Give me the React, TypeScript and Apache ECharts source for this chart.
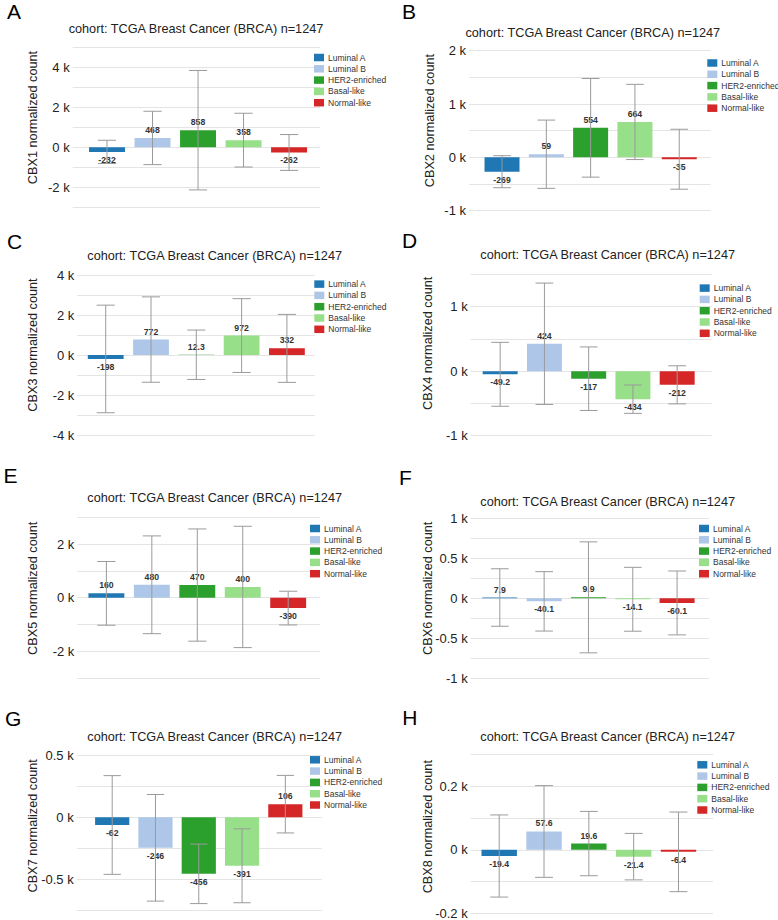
import React, { useEffect, useRef } from "react";
import * as echarts from "echarts";

// ---------- data ----------
const SUBTYPES = ["Luminal A", "Luminal B", "HER2-enriched", "Basal-like", "Normal-like"];
const GENES = ["CBX1", "CBX2", "CBX3", "CBX4", "CBX5", "CBX6", "CBX7", "CBX8"];
const PANEL_LETTERS = ["A", "B", "C", "D", "E", "F", "G", "H"];
const TITLE = "cohort: TCGA Breast Cancer (BRCA) n=1247";

const cbx1Mean = [-232, 468, 858, 358, -262];
const cbx1Sd = [583, 1340, 3000, 1350, 900];
const cbx2Mean = [-269, 59, 554, 664, -35];
const cbx2Sd = [300, 640, 925, 705, 562];
const cbx3Mean = [-198, 772, 12.3, 972, 332];
const cbx3Sd = [2690, 2135, 1235, 1845, 1700];
const cbx4Mean = [-49.2, 424, -117, -434, -212];
const cbx4Sd = [495, 940, 492, 220, 295];
const cbx5Mean = [160, 480, 470, 400, -390];
const cbx5Sd = [1190, 1825, 2095, 2265, 630];
const cbx6Mean = [7.9, -40.1, 9.9, -14.1, -60.1];
const cbx6Sd = [360, 372, 695, 400, 400];
const cbx7Mean = [-62, -246, -456, -391, 106];
const cbx7Sd = [398, 430, 240, 298, 232];
const cbx8Mean = [-19.4, 57.6, 19.6, -21.4, -6.4];
const cbx8Sd = [129, 144, 101, 73, 125];

const MEANS = [cbx1Mean, cbx2Mean, cbx3Mean, cbx4Mean, cbx5Mean, cbx6Mean, cbx7Mean, cbx8Mean];
const SDS = [cbx1Sd, cbx2Sd, cbx3Sd, cbx4Sd, cbx5Sd, cbx6Sd, cbx7Sd, cbx8Sd];

// y axis ticks (value units)
const Y_MIN = [-3000, -1000, -4000, -1000, -3000, -1000, -750, -200];
const Y_MAX = [5000, 2000, 4000, 1500, 3000, 1000, 500, 300];
const Y_INTERVAL = [1000, 500, 1000, 500, 1000, 250, 250, 100];
const Y_LABEL_STEP = [2000, 1000, 2000, 1000, 2000, 500, 500, 200];

// ---------- layout / style ----------
const COLORS = ["#1f77b4", "#aec7e8", "#2ca02c", "#98df8a", "#d62728"];
const FONT = '"Liberation Sans", Arial, Helvetica, sans-serif';

const LAYOUT = [
  { lx: 7, ly: 11.5, gl: 72.7, gr: 320, gt: 47.7, gb: 207, xmin: -0.754, xmax: 4.68, tx: 196, ty: 29, nx: 33, ny: 117.5, legL: 314, legT: 53 },
  { lx: 402, ly: 11.5, gl: 469, gr: 710.7, gt: 50.7, gb: 210.7, xmin: -0.745, xmax: 4.71, tx: 592.8, ty: 32.5, nx: 430, ny: 120.6, legL: 707.3, legT: 58.5 },
  { lx: 7, ly: 241, gl: 77.3, gr: 315, gt: 275, gb: 435, xmin: -0.627, xmax: 4.62, tx: 214.7, ty: 256, nx: 33.3, ny: 345, legL: 314.3, legT: 279.6 },
  { lx: 402, ly: 240, gl: 470.7, gr: 711.7, gt: 274.3, gb: 435.7, xmin: -0.666, xmax: 4.78, tx: 607.7, ty: 255, nx: 428, ny: 343.3, legL: 699.7, legT: 283.6 },
  { lx: 3.5, ly: 475, gl: 77.3, gr: 320, gt: 517.3, gb: 678, xmin: -0.64, xmax: 4.7, tx: 214.7, ty: 498.3, nx: 33.3, ny: 588.3, legL: 310, legT: 524 },
  { lx: 399, ly: 477.5, gl: 470.7, gr: 709, gt: 518.3, gb: 678, xmin: -0.657, xmax: 4.72, tx: 607.7, ty: 501.7, nx: 428, ny: 588.3, legL: 699, legT: 524 },
  { lx: 5, ly: 718, gl: 76.7, gr: 321.7, gt: 755.3, gb: 910.3, xmin: -0.82, xmax: 4.84, tx: 214.7, ty: 736.7, nx: 33.3, ny: 825.8, legL: 310, legT: 755.3 },
  { lx: 402.3, ly: 717.5, gl: 470.7, gr: 713, gt: 754.3, gb: 915, xmin: -0.636, xmax: 4.77, tx: 607.7, ty: 736.7, nx: 428, ny: 826.7, legL: 697.3, legT: 760.3 },
];

function buildOption() {
  const grid: any[] = [];
  const xAxis: any[] = [];
  const yAxis: any[] = [];
  const legend: any[] = [];
  const series: any[] = [];
  const graphic: any[] = [];

  LAYOUT.forEach((L, p) => {
    grid.push({ left: L.gl, top: L.gt, width: L.gr - L.gl, height: L.gb - L.gt, containLabel: false });
    xAxis.push({ type: "value", gridIndex: p, min: L.xmin, max: L.xmax, show: false });
    const step = Y_LABEL_STEP[p];
    yAxis.push({
      type: "value",
      gridIndex: p,
      min: Y_MIN[p],
      max: Y_MAX[p],
      interval: Y_INTERVAL[p],
      axisLine: { show: false },
      axisTick: { show: false },
      splitLine: { show: true, lineStyle: { color: "#e4e4e4", width: 1 } },
      axisLabel: {
        margin: 3,
        fontSize: 13,
        fontFamily: FONT,
        color: "#222",
        formatter: (v: number) => (Math.abs(v % step) < 1e-9 ? `${v / 1000} k` : ""),
      },
    });
    legend.push({
      data: SUBTYPES,
      orient: "vertical",
      left: L.legL,
      top: L.legT,
      padding: 0,
      itemWidth: 10,
      itemHeight: 7.5,
      itemGap: 2.3,
      icon: "rect",
      selectedMode: false,
      textStyle: { fontSize: 8.5, fontFamily: FONT, color: "#333", padding: [0, 0, 0, -1] },
    });

    const means = MEANS[p];
    const sds = SDS[p];
    SUBTYPES.forEach((name, i) => {
      const v = means[i];
      series.push({
        type: "bar",
        name,
        xAxisIndex: p,
        yAxisIndex: p,
        barWidth: "79%",
        barGap: "-100%",
        itemStyle: { color: COLORS[i] },
        label: {
          show: true,
          distance: 3.5,
          fontSize: 8.7,
          fontWeight: "bold",
          fontFamily: FONT,
          color: "#333",
          formatter: (pp: any) => String(pp.value[1]),
        },
        data: [{ value: [i, v], label: { position: v >= 0 ? "top" : "bottom" } }],
      });
    });

    series.push({
      type: "custom",
      xAxisIndex: p,
      yAxisIndex: p,
      z: 5,
      silent: true,
      encode: { x: 0, y: [1, 2] },
      data: means.map((m, i) => [i, m - sds[i], m + sds[i]]),
      renderItem: (params: any, api: any) => {
        const x = api.value(0);
        const lo = api.coord([x, api.value(1)]);
        const hi = api.coord([x, api.value(2)]);
        const half = (api.size([1, 0])[0] * 0.4) / 2;
        const style = { stroke: "#9a9a9a", lineWidth: 1 };
        return {
          type: "group",
          children: [
            { type: "line", shape: { x1: lo[0], y1: lo[1], x2: hi[0], y2: hi[1] }, style },
            { type: "line", shape: { x1: hi[0] - half, y1: hi[1], x2: hi[0] + half, y2: hi[1] }, style },
            { type: "line", shape: { x1: lo[0] - half, y1: lo[1], x2: lo[0] + half, y2: lo[1] }, style },
          ],
        };
      },
    });

    graphic.push({
      type: "text",
      x: L.lx,
      y: L.ly,
      style: { text: PANEL_LETTERS[p], fontSize: 21, fontFamily: FONT, fill: "#000", textAlign: "left", textVerticalAlign: "middle" },
    });
    graphic.push({
      type: "text",
      x: L.tx,
      y: L.ty,
      style: { text: TITLE, fontSize: 12.7, fontFamily: FONT, fill: "#222", textAlign: "center", textVerticalAlign: "middle" },
    });
    graphic.push({
      type: "text",
      x: L.nx,
      y: L.ny,
      rotation: Math.PI / 2,
      style: { text: `${GENES[p]} normalized count`, fontSize: 12.7, fontFamily: FONT, fill: "#222", textAlign: "center", textVerticalAlign: "middle" },
    });
  });

  return { animation: false, backgroundColor: "#fff", grid, xAxis, yAxis, legend, series, graphic };
}

export default function App() {
  const ref = useRef<HTMLDivElement>(null);
  useEffect(() => {
    const chart = echarts.init(ref.current!, null, { renderer: "svg" });
    chart.setOption(buildOption());
    return () => chart.dispose();
  }, []);
  return <div ref={ref} style={{ position: "absolute", left: 0, top: 0, width: 778, height: 920, background: "#fff" }} />;
}
